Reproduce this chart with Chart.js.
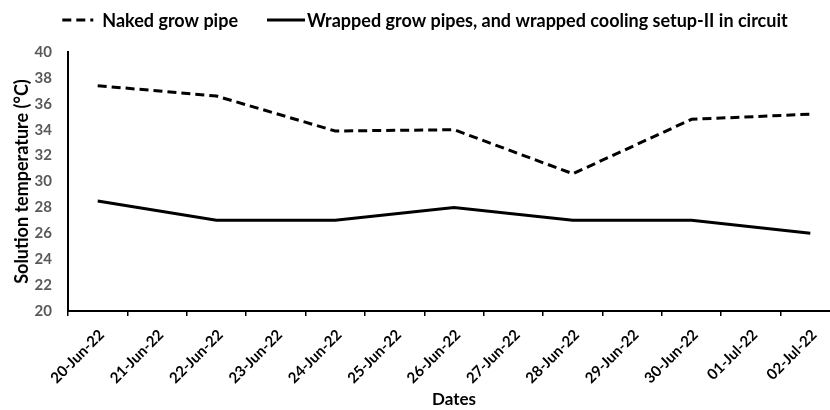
<!DOCTYPE html>
<html><head><meta charset="utf-8">
<script src="https://cdn.jsdelivr.net/npm/chart.js@4.4.1/dist/chart.umd.min.js"></script>
<style>
html,body{margin:0;padding:0;background:#fff;overflow:hidden;}
#wrap{width:830px;height:410px;overflow:hidden;position:relative;}
#inner{position:absolute;left:0;top:0;width:850px;height:410px;}
</style></head><body>
<div id="wrap"><div id="inner"><canvas id="c" width="850" height="410"></canvas></div></div>
<script>
const dates = ['20-Jun-22','21-Jun-22','22-Jun-22','23-Jun-22','24-Jun-22','25-Jun-22','26-Jun-22','27-Jun-22','28-Jun-22','29-Jun-22','30-Jun-22','01-Jul-22','02-Jul-22'];
const nakedPipe = [37.4, null, 36.6, null, 33.9, null, 34.0, null, 30.6, null, 34.8, null, 35.2];
const wrappedPipes = [28.5, null, 27.0, null, 27.0, null, 28.0, null, 27.0, null, 27.0, null, 26.0];
const seriesNames = ['Naked grow pipe', 'Wrapped grow pipes, and wrapped cooling setup-II in circuit'];
const yMin = 20, yMax = 40, yStep = 2;

const FONT = 'Lato';

const legendPlugin = {
  id: 'topLegend',
  afterDraw(chart) {
    const ctx = chart.ctx;
    const sets = chart.data.datasets;
    ctx.save();
    ctx.font = 'bold 18px ' + FONT;
    const sampleW = [31, 38], sampleGap = [9, 2], itemGap = 29;
    let total = 0;
    sets.forEach((ds, i) => {
      total += sampleW[i] + sampleGap[i] + ctx.measureText(ds.label).width;
      if (i < sets.length - 1) total += itemGap;
    });
    let x = chart.width / 2 - total / 2;
    const y = 20;
    sets.forEach((ds, i) => {
      ctx.beginPath();
      ctx.lineWidth = ds.borderWidth;
      ctx.strokeStyle = ds.borderColor;
      ctx.setLineDash(ds.borderDash || []);
      ctx.moveTo(x, y);
      ctx.lineTo(x + sampleW[i], y);
      ctx.stroke();
      ctx.setLineDash([]);
      x += sampleW[i] + sampleGap[i];
      ctx.fillStyle = '#000';
      ctx.textBaseline = 'middle';
      ctx.textAlign = 'left';
      ctx.fillText(ds.label, x, y + 1);
      x += ctx.measureText(ds.label).width + itemGap;
    });
    ctx.restore();
  }
};

new Chart(document.getElementById('c'), {
  type: 'line',
  data: {
    labels: dates,
    datasets: [
      { label: seriesNames[0], data: nakedPipe, borderColor: '#000', backgroundColor: '#000',
        borderWidth: 3, borderDash: [9, 5], pointRadius: 0, tension: 0, spanGaps: true, fill: false },
      { label: seriesNames[1], data: wrappedPipes, borderColor: '#000', backgroundColor: '#000',
        borderWidth: 3, pointRadius: 0, tension: 0, spanGaps: true, fill: false }
    ]
  },
  plugins: [legendPlugin],
  options: {
    responsive: false,
    animation: false,
    devicePixelRatio: 1,
    layout: { padding: { top: 52, right: 10, bottom: 0, left: 0 } },
    plugins: {
      tooltip: { enabled: false },
      legend: { display: false }
    },
    scales: {
      x: {
        type: 'category',
        offset: true,
        grid: { display: true, drawOnChartArea: false, drawTicks: true, tickLength: 5, color: '#000', lineWidth: 1.5, offset: true },
        border: { display: true, color: '#000', width: 2 },
        ticks: { autoSkip: false, minRotation: 45, maxRotation: 45, color: '#000', padding: 10, labelOffset: 4,
                 font: { family: FONT, size: 15, weight: 'bold' } },
        title: { display: true, text: 'Dates', color: '#000', padding: { top: 0, bottom: 0 },
                 font: { family: FONT, size: 17, weight: 'bold' } },
        afterFit: s => { s.height = 99; }
      },
      y: {
        min: yMin, max: yMax,
        grid: { display: false, drawTicks: false },
        border: { display: true, color: '#000', width: 2 },
        ticks: { stepSize: yStep, color: '#595959', padding: 16,
                 font: { family: FONT, size: 15, weight: 'bold' } },
        title: { display: true, text: 'Solution temperature (°C)', color: '#000', padding: { top: 11, bottom: 0 },
                 font: { family: FONT, size: 18, weight: 'bold' } },
        afterFit: s => { s.width = 68; }
      }
    }
  }
});
</script>
</body></html>
